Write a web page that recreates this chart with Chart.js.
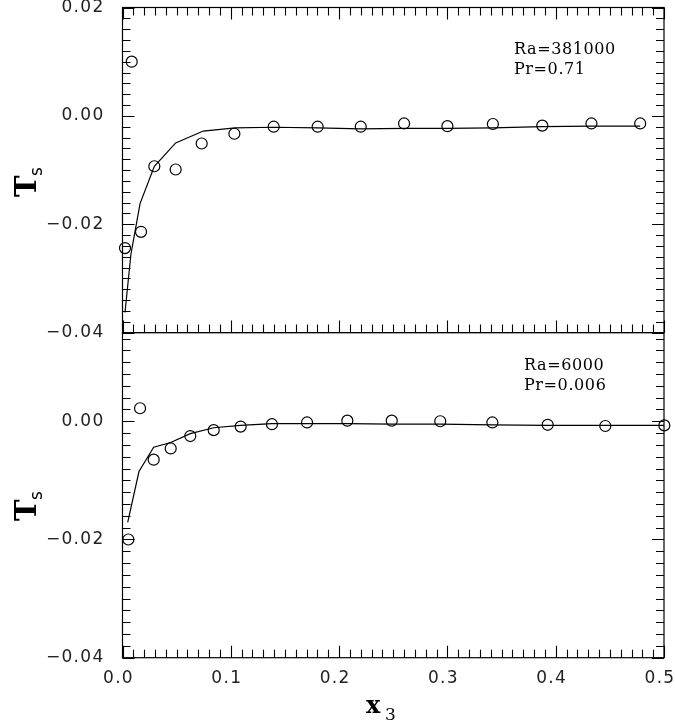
<!DOCTYPE html>
<html>
<head>
<meta charset="utf-8">
<script src="https://cdn.jsdelivr.net/npm/chart.js@4.4.0/dist/chart.umd.min.js"></script>
<style>
  html, body { margin: 0; padding: 0; background: #fff; }
  #c { display: block; }
</style>
</head>
<body>
<canvas id="c" width="675" height="725"></canvas>
<script>
// Upper panel: Ra = 381000, Pr = 0.71
const topObsX = [0.0023, 0.0085, 0.0171, 0.0294, 0.0491, 0.0731, 0.1033, 0.1396, 0.1802, 0.220, 0.260, 0.300, 0.342, 0.3876, 0.433, 0.478];
const topObsY = [-0.0244, 0.0100, -0.0214, -0.0093, -0.0099, -0.0051, -0.0033, -0.0020, -0.0020, -0.0020, -0.0014, -0.0019, -0.0015, -0.0018, -0.0014, -0.0014];
const topFitX = [0.0023, 0.0078, 0.0162, 0.0294, 0.0491, 0.0746, 0.1039, 0.1396, 0.1802, 0.220, 0.260, 0.300, 0.342, 0.3876, 0.433, 0.478];
const topFitY = [-0.0363, -0.0255, -0.0162, -0.0093, -0.0050, -0.0028, -0.0022, -0.0021, -0.0022, -0.0024, -0.0023, -0.0023, -0.0022, -0.0020, -0.0019, -0.0019];

// Lower panel: Ra = 6000, Pr = 0.006
const botObsX = [0.0054, 0.0162, 0.0288, 0.0445, 0.0626, 0.0842, 0.1091, 0.138, 0.1704, 0.2076, 0.2486, 0.2934, 0.3415, 0.3926, 0.4458, 0.5003];
const botObsY = [-0.0200, 0.0022, -0.0065, -0.0046, -0.0025, -0.0015, -0.0009, -0.0005, -0.0002, 0.0001, 0.0001, 0.0000, -0.0002, -0.0006, -0.0008, -0.0007];
const botFitX = [0.0048, 0.0152, 0.0288, 0.0445, 0.0626, 0.0842, 0.1091, 0.138, 0.1704, 0.2076, 0.2486, 0.2934, 0.3415, 0.3926, 0.4458, 0.500];
const botFitY = [-0.0171, -0.0085, -0.0044, -0.0036, -0.0021, -0.0011, -0.0007, -0.0004, -0.0004, -0.0004, -0.0005, -0.0005, -0.0006, -0.0007, -0.0007, -0.0007];

// Tick labels
const xTickVals = [0.0, 0.1, 0.2, 0.3, 0.4, 0.5];
const topTickVals = [0.02, 0.00, -0.02, -0.04];
const botTickVals = [0.00, -0.02, -0.04];

const pts = (xs, ys) => xs.map((x, i) => ({ x: x, y: ys[i] }));
const fmt2 = v => v.toFixed(2).replace('-', '\u2212');

const labelFont = { family: 'DejaVu Sans', size: 17 };
const labelColor = '#222';

function noPad(s) {
  s.paddingTop = 0; s.paddingBottom = 0; s.paddingLeft = 0; s.paddingRight = 0;
}

function yScale(min, max, vals) {
  return {
    type: 'linear', position: 'left', stack: 'panels', stackWeight: 1,
    min: min, max: max,
    grid: { display: false, drawTicks: false },
    border: { display: false },
    ticks: { padding: 18, font: labelFont, color: labelColor, callback: v => fmt2(v), autoSkip: false },
    afterBuildTicks: s => { s.ticks = vals.map(v => ({ value: v })); },
    afterFit: s => { s.width = 122.5; noPad(s); }
  };
}

// Wider letter spacing for all chart text
const spacingPlugin = {
  id: 'spacing',
  beforeDraw(chart) { chart.ctx.letterSpacing = '1.3px'; }
};

// Frame, inward tick marks, axis titles and panel notes
const framePlugin = {
  id: 'frame',
  afterDraw(chart) {
    const ctx = chart.ctx;
    const xs = chart.scales.x, yt = chart.scales.yTop, yb = chart.scales.yBot;
    const L = chart.chartArea.left, R = chart.chartArea.right;
    ctx.save();
    ctx.letterSpacing = '0px';
    ctx.strokeStyle = '#000';
    ctx.lineWidth = 1.2;
    ctx.strokeRect(L, yt.top, R - L, yt.bottom - yt.top);
    ctx.strokeRect(L, yb.top, R - L, yb.bottom - yb.top);

    ctx.lineWidth = 1.1;
    ctx.beginPath();
    for (let i = 0; i <= 50; i++) {
      const px = Math.round(xs.getPixelForValue(i / 100)) + 0.5;
      const len = i % 10 === 0 ? 12 : 8;
      ctx.moveTo(px, yt.top); ctx.lineTo(px, yt.top + len);
      ctx.moveTo(px, yt.bottom); ctx.lineTo(px, yt.bottom - len);
      ctx.moveTo(px, yb.bottom); ctx.lineTo(px, yb.bottom - len);
    }
    const yTicks = (sc, lo, hi) => {
      for (let i = lo; i <= hi; i++) {
        const py = Math.round(sc.getPixelForValue(i / 500)) + 0.5;
        const len = i % 10 === 0 ? 12 : 8;
        ctx.moveTo(L, py); ctx.lineTo(L + len, py);
        ctx.moveTo(R, py); ctx.lineTo(R - len, py);
      }
    };
    yTicks(yt, -20, 10);
    yTicks(yb, -20, 7);
    ctx.stroke();

    // y-axis titles: T with subscript s, reading upward
    const ts = (cx, baseY) => {
      ctx.save();
      ctx.translate(cx, baseY);
      ctx.rotate(-Math.PI / 2);
      ctx.fillStyle = '#000';
      ctx.textBaseline = 'alphabetic';
      ctx.font = 'bold 29px "DejaVu Serif"';
      ctx.fillText('T', 0, 0);
      ctx.font = '17px "DejaVu Sans"';
      ctx.fillText('s', 21, 6);
      ctx.restore();
    };
    ts(36, 197);
    ts(36, 521);

    // x-axis title: x with subscript 3
    ctx.fillStyle = '#000';
    ctx.textBaseline = 'alphabetic';
    ctx.font = 'bold 24px "DejaVu Serif"';
    ctx.fillText('x', 366, 713);
    ctx.font = '17px "DejaVu Serif"';
    ctx.fillText('3', 385, 720);

    // panel notes
    ctx.font = '16px "DejaVu Serif"';
    ctx.letterSpacing = '0.6px';
    ctx.fillText('Ra=381000', 514, 54);
    ctx.fillText('Pr=0.71', 514, 74);
    ctx.fillText('Ra=6000', 524, 370);
    ctx.fillText('Pr=0.006', 524, 390);
    ctx.restore();
  }
};

const circle = {
  showLine: false, pointStyle: 'circle', pointRadius: 5.5,
  pointBorderColor: '#000', pointBackgroundColor: 'rgba(0,0,0,0)', pointBorderWidth: 1.2,
  clip: false
};
const curve = {
  showLine: true, pointRadius: 0, borderColor: '#000', borderWidth: 1.2, tension: 0
};

new Chart(document.getElementById('c'), {
  type: 'scatter',
  data: {
    datasets: [
      Object.assign({ label: 'Ra=381000 fit', data: pts(topFitX, topFitY), yAxisID: 'yTop' }, curve),
      Object.assign({ label: 'Ra=381000', data: pts(topObsX, topObsY), yAxisID: 'yTop' }, circle),
      Object.assign({ label: 'Ra=6000 fit', data: pts(botFitX, botFitY), yAxisID: 'yBot' }, curve),
      Object.assign({ label: 'Ra=6000', data: pts(botObsX, botObsY), yAxisID: 'yBot' }, circle)
    ]
  },
  options: {
    responsive: false,
    devicePixelRatio: 1,
    animation: false,
    layout: { padding: { top: 7.5, right: 11, left: 0, bottom: 0 } },
    plugins: { legend: { display: false }, tooltip: { enabled: false } },
    scales: {
      x: {
        type: 'linear', position: 'bottom', min: 0, max: 0.5,
        grid: { display: false, drawTicks: false },
        border: { display: false },
        ticks: { padding: 11, labelOffset: -4, font: labelFont, color: labelColor, maxRotation: 0, autoSkip: false, callback: v => v.toFixed(1) },
        afterBuildTicks: s => { s.ticks = xTickVals.map(v => ({ value: v })); },
        afterFit: s => { s.height = 67.3; noPad(s); }
      },
      yBot: yScale(-0.04, 0.015, botTickVals),
      yTop: yScale(-0.04, 0.02, topTickVals)
    }
  },
  plugins: [spacingPlugin, framePlugin]
});
</script>
</body>
</html>
